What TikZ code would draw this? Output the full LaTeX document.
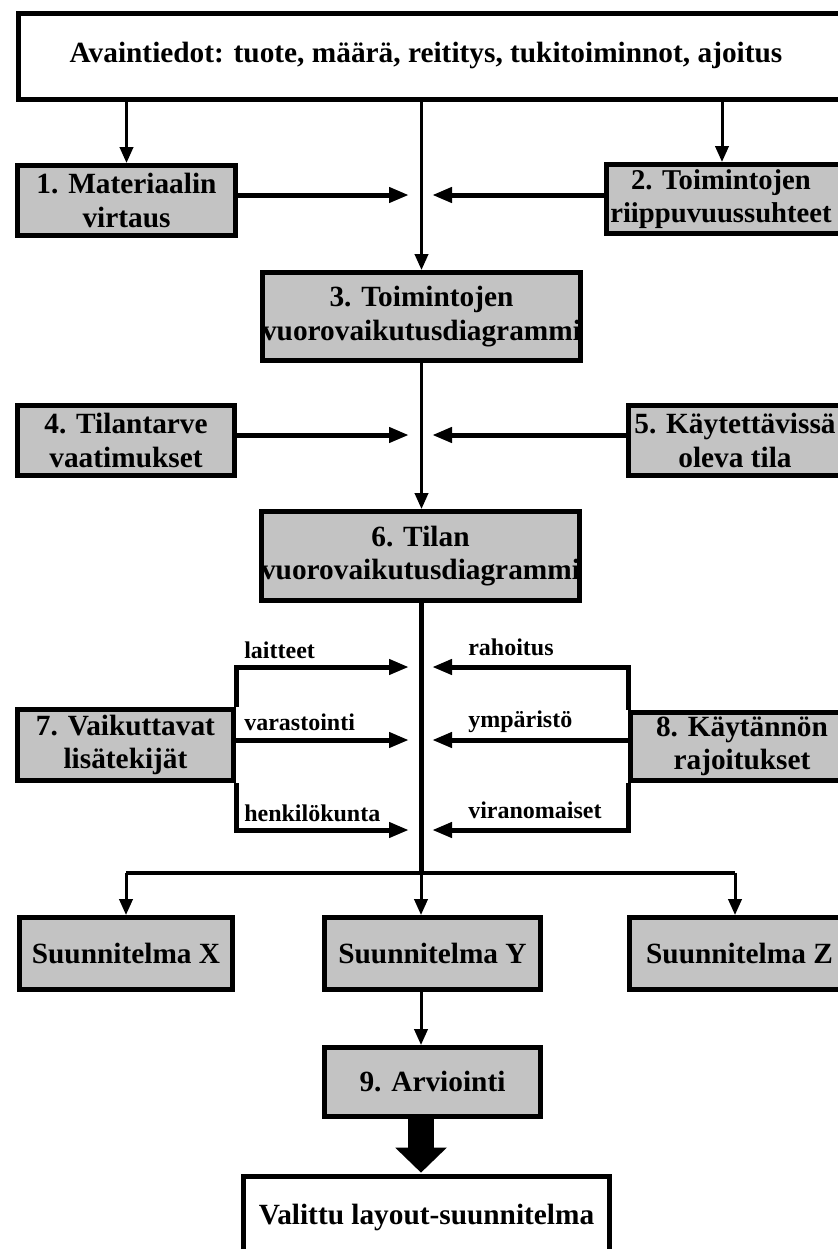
\documentclass[tikz,border=0pt]{standalone}
\usepackage{fontspec}
\setmainfont{Liberation Serif}
\usetikzlibrary{arrows.meta,positioning}
\definecolor{boxgray}{RGB}{195,195,195}

\begin{document}
\begin{tikzpicture}[x=0.75pt, y=-0.75pt,
  box/.style={draw, line width=3.75pt, fill=boxgray, align=center, inner sep=0pt,
    font=\fontsize{22}{25}\selectfont\bfseries},
  whitebox/.style={box, fill=white},
  boxtext/.style={align=center, inner sep=0pt, font=\fontsize{22}{25}\selectfont\bfseries},
  down/.style={line width=2.25pt, -{Triangle[length=12pt,width=10pt]}},
  inflow/.style={line width=3.75pt, -{Triangle[length=15pt,width=11pt]}},
  lbl/.style={font=\fontsize{18}{20}\selectfont\bfseries, inner sep=0pt, anchor=west}]
\useasboundingbox (0,0) rectangle (838,1249);
\clip (0,0) rectangle (838,1249);

% boxes
\node[whitebox, minimum width=624pt, minimum height=64.5pt] (info) at (434,56.5) {};
\node[boxtext] (infotext) at (426,55)
  {Avaintiedot: tuote, määrä, reititys, tukitoiminnot, ajoitus};
\node[box, minimum width=163.5pt, minimum height=52.5pt] (mat) at (126.5,200.5) {1. Materiaalin\\virtaus};
\node[box, minimum width=182.25pt, minimum height=51.75pt] (dep) at (728,199) {};
\node[boxtext, font=\fontsize{21.5}{25}\selectfont\bfseries] (deptext) at (721,199) {2. Toimintojen\\riippuvuussuhteet};
\node[box, minimum width=237pt, minimum height=66pt] (actd) at (421.5,316.5) {3. Toimintojen\\vuorovaikutusdiagrammi};
\node[box, minimum width=162.75pt, minimum height=52.5pt] (need) at (126,440.5) {4. Tilantarve\\vaatimukset};
\node[box, minimum width=165.75pt, minimum height=52.5pt] (avail) at (739,440.5) {};
\node[boxtext] (availtext) at (735,440.5) {5. Käytettävissä\\oleva tila};
\node[box, minimum width=238.5pt, minimum height=66.75pt] (spcd) at (420.5,556) {6. Tilan\\vuorovaikutusdiagrammi};
\node[box, minimum width=162pt, minimum height=53.25pt] (extra) at (125.5,745) {7. Vaikuttavat\\lisätekijät};
\node[box, minimum width=167.25pt, minimum height=51pt] (limit) at (742,746.5) {8. Käytännön\\rajoitukset};
\node[box, minimum width=159.75pt, minimum height=54pt] (planx) at (126,953.5) {Suunnitelma X};
\node[box, minimum width=162pt, minimum height=54pt] (plany) at (432.5,953.5) {Suunnitelma Y};
\node[box, minimum width=165pt, minimum height=54pt] (planz) at (739.5,953.5) {Suunnitelma Z};
\node[box, minimum width=162pt, minimum height=51.75pt] (eval) at (432.5,1082) {9. Arviointi};
\node[whitebox, minimum width=274.5pt, minimum height=60.75pt] (final) at (426.5,1217) {Valittu layout-suunnitelma};

% arrow tips beside the spine
\coordinate (a1l) at (409,195);  \coordinate (a1r) at (432,195);
\coordinate (a2l) at (409,435);  \coordinate (a2r) at (432,435);
\coordinate (f1l) at (409,667);  \coordinate (f1r) at (432,667);
\coordinate (f2l) at (409,740);  \coordinate (f2r) at (432,740);
\coordinate (f3l) at (409,830);  \coordinate (f3r) at (432,830);
\coordinate (split) at (421,873);

% spine
\draw[down] (info.south -| actd.north) -- (actd.north);
\draw[down] (info.south -| mat.north) -- (mat.north);
\draw[down] (info.south -| 722,0) -- (dep.north -| 722,0);
\draw[down] (actd.south) -- (actd.south |- spcd.north);
\draw[line width=3.75pt] (spcd.south -| split) -- (split);
\draw[line width=3pt] (split -| planx.north) -- (split -| 735,0);
\draw[down] (split -| planx.north) -- (planx.north);
\draw[down] (split) -- (split |- plany.north);
\draw[down] (split -| 735,0) -- (planz.north -| 735,0);
\draw[down] (plany.south -| split) -- (eval.north -| split);
\draw[line width=20pt, -{Triangle[length=18.75pt,width=37.5pt]}]
  (eval.south -| split) -- ([yshift=1pt]final.north -| split);

% inflows
\draw[inflow] (mat.east |- a1l) -- (a1l);
\draw[inflow] (dep.west |- a1r) -- (a1r);
\draw[inflow] (need.east |- a2l) -- (a2l);
\draw[inflow] (avail.west |- a2r) -- (a2r);
\draw[inflow] (extra.north east) |- (f1l);
\draw[inflow] (extra.east |- f2l) -- (f2l);
\draw[inflow] (extra.south east) |- (f3l);
\draw[inflow] (limit.north west) |- (f1r);
\draw[inflow] (limit.west |- f2r) -- (f2r);
\draw[inflow] (limit.south west) |- (f3r);

% labels
\node[lbl] (l1) at (244,650) {laitteet};
\node[lbl] (l2) at (244,722) {varastointi};
\node[lbl] (l3) at (244,813) {henkilökunta};
\node[lbl] (r1) at (468,647) {rahoitus};
\node[lbl] (r2) at (468,722) {ympäristö};
\node[lbl] (r3) at (468,810) {viranomaiset};
\end{tikzpicture}
\end{document}
